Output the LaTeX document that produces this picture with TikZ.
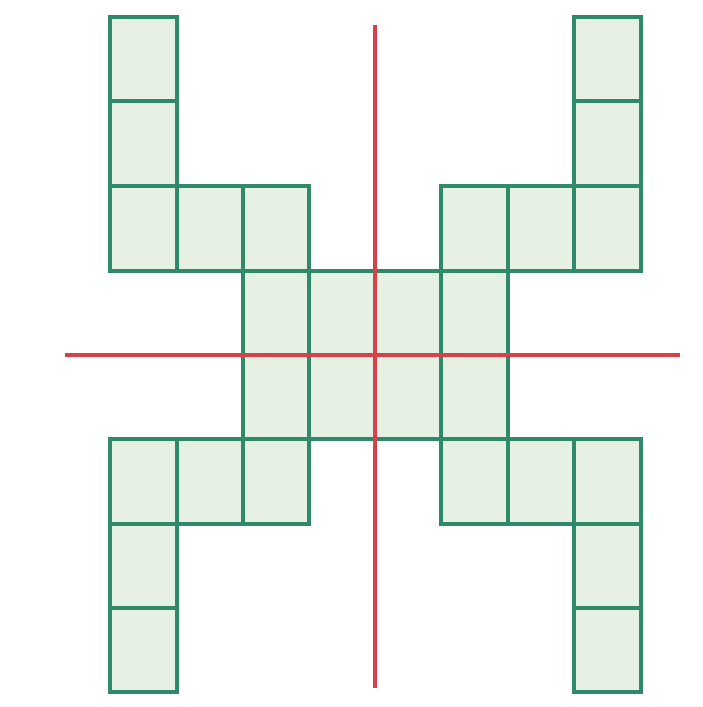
\documentclass[tikz,border=0pt]{standalone}
\definecolor{cellfill}{HTML}{E7F1E3}
\definecolor{cellline}{HTML}{2F8A6A}
\definecolor{axisred}{HTML}{D8404A}
\tikzset{
  cellbox/.style={fill=cellfill, draw=cellline, line width=0.12cm, line join=miter},
  axisline/.style={draw=axisred, line width=0.11cm}
}
\begin{document}
\begin{tikzpicture}[x=0.03cm,y=-0.03cm]
\useasboundingbox (0,0) rectangle (702,707);
\def\xs{{110,176.5,243,308.5,375,441,507.5,574,640.5}}
\def\ys{{17,101.5,186.5,271,355,439,523.5,608,692}}
\foreach \c/\r in {0/0,7/0,0/1,7/1,0/2,1/2,2/2,5/2,6/2,7/2,2/3,3/3,4/3,5/3,2/4,3/4,4/4,5/4,0/5,1/5,2/5,5/5,6/5,7/5,0/6,7/6,0/7,7/7}{
  \pgfmathsetmacro\xa{\xs[\c]}
  \pgfmathsetmacro\xb{\xs[\c+1]}
  \pgfmathsetmacro\ya{\ys[\r]}
  \pgfmathsetmacro\yb{\ys[\r+1]}
  \path[cellbox] (\xa,\ya) rectangle (\xb,\yb);
}
\coordinate (vtop) at (375,25);
\coordinate (vbot) at (375,688);
\coordinate (hleft) at (65,355);
\coordinate (hright) at (680,355);
\draw[axisline] (vtop) -- (vbot);
\draw[axisline] (hleft) -- (hright);
\end{tikzpicture}
\end{document}
